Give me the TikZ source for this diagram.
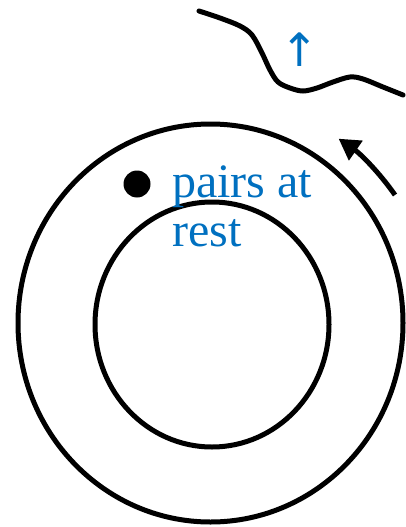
\documentclass[tikz,border=0pt]{standalone}
\usepackage{fontspec}
\setmainfont{Liberation Serif}
\newfontfamily\arrowfont{DejaVu Sans}
\usetikzlibrary{arrows.meta}
\definecolor{pairBlue}{HTML}{0070C0}
\definecolor{ringBlack}{HTML}{000000}
\begin{document}
\begin{tikzpicture}[x=1pt,y=-1pt,ring/.style={draw=ringBlack, line width=5pt},wave/.style={draw=ringBlack, line width=5pt, line cap=round},lbl/.style={font=\fontsize{48}{49}\selectfont, text=pairBlue, inner sep=0pt, align=left},arr/.style={-{Triangle[length=21pt, width=23pt]}, line width=5pt, draw=ringBlack}]
\useasboundingbox (0,0) rectangle (405,527);
\draw[ring] (210.5,323) ellipse [x radius=192.5, y radius=199];
\draw[ring] (212,324.5) ellipse [x radius=117, y radius=122.5];
\node[circle, fill=ringBlack, minimum size=27pt, inner sep=0pt] (dot) at (137,184) {};
\node[lbl, anchor=base west] (pairs) at (172,246) {pairs at\\rest};
% surface above the ring
\draw[wave] plot[smooth, tension=0.55] coordinates {(199,11) (220,18) (240,26) (252,35) (262,53) (270,70) (278,82) (290,88) (303,91) (317,88) (333,82) (350,77) (363,79) (383,87) (403,95)};
\node[lbl, font=\arrowfont\fontsize{46}{46}\selectfont] (up) at (300,50) {↑};
\coordinate (arrS) at (395,195);
\draw[arr] (arrS) arc[start angle=-34.8, end angle=-55.3, radius=224];
\end{tikzpicture}
\end{document}
